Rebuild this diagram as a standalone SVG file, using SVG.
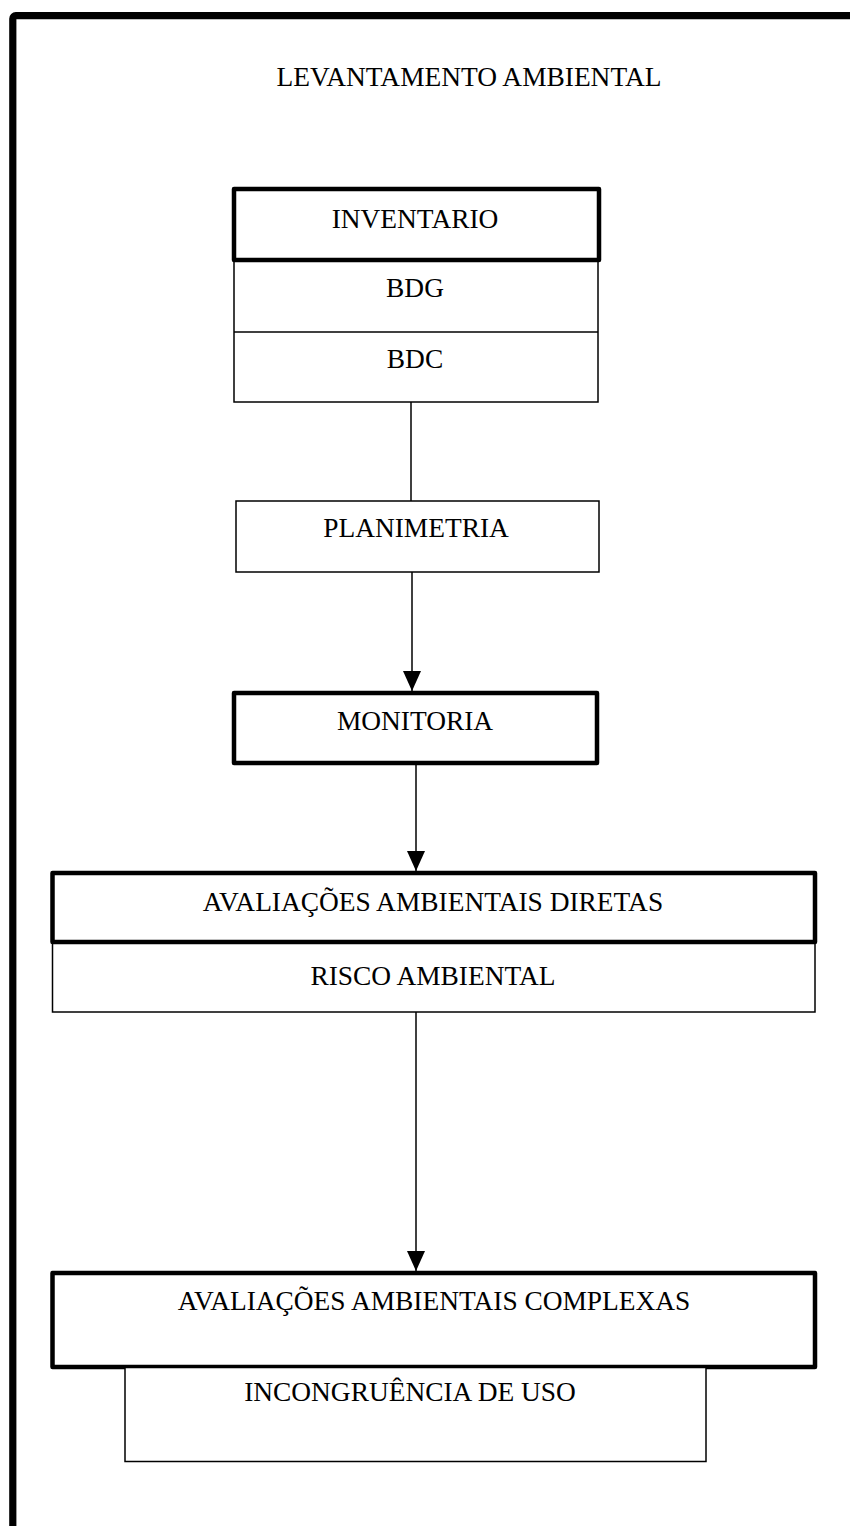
<svg xmlns="http://www.w3.org/2000/svg" width="850" height="1526" viewBox="0 0 850 1526">
<defs>
<style>
text{font-family:"Liberation Serif","Times New Roman",serif;font-size:27.4px;fill:#000;text-anchor:middle}
.thin{fill:#fff;stroke:#000;stroke-width:1.5}
.thick{fill:#fff;stroke:#000;stroke-width:4.5;stroke-linejoin:round}
.conn{stroke:#000;stroke-width:1.5;fill:none}
</style>
<marker id="arr" markerWidth="20" markerHeight="18" refX="20" refY="9" orient="auto" markerUnits="userSpaceOnUse">
<path d="M0,0 L20,9 L0,18 Z" fill="#000"/>
</marker>
</defs>
<rect width="850" height="1526" fill="#fff"/>
<g id="frame">
<rect x="12.8" y="15.7" width="900" height="1600" rx="3" fill="none" stroke="#000" stroke-width="7.2"/>
<text x="469" y="86">LEVANTAMENTO AMBIENTAL</text>
</g>
<g id="connectors">
<line class="conn" x1="411" y1="402" x2="411" y2="501"/>
<line class="conn" x1="412" y1="572" x2="412" y2="691" marker-end="url(#arr)"/>
<line class="conn" x1="416" y1="763" x2="416" y2="871" marker-end="url(#arr)"/>
<line class="conn" x1="416" y1="1012" x2="416" y2="1271" marker-end="url(#arr)"/>
</g>
<g id="inventario">
<rect class="thin" x="234" y="260" width="364" height="142"/>
<line class="conn" x1="234" y1="332" x2="598" y2="332"/>
<rect class="thick" x="234" y="189" width="365" height="71"/>
<text x="415" y="228">INVENTARIO</text>
<text x="415" y="297">BDG</text>
<text x="415" y="368">BDC</text>
</g>
<g id="planimetria">
<rect class="thin" x="236" y="501" width="363" height="71"/>
<text x="416" y="537">PLANIMETRIA</text>
</g>
<g id="monitoria">
<rect class="thick" x="234" y="693" width="363" height="70"/>
<text x="415" y="730">MONITORIA</text>
</g>
<g id="diretas">
<rect class="thin" x="52.5" y="942" width="762.5" height="70"/>
<rect class="thick" x="52.5" y="873" width="762.5" height="69"/>
<text x="433" y="911">AVALIAÇÕES AMBIENTAIS DIRETAS</text>
<text x="433" y="985">RISCO AMBIENTAL</text>
</g>
<g id="complexas">
<rect class="thick" x="52.5" y="1273" width="762.5" height="94"/>
<text x="434" y="1310">AVALIAÇÕES AMBIENTAIS COMPLEXAS</text>
</g>
<g id="incongruencia">
<rect class="thin" x="125" y="1367.5" width="581" height="94"/>
<text x="410" y="1401">INCONGRUÊNCIA DE USO</text>
</g>
</svg>
